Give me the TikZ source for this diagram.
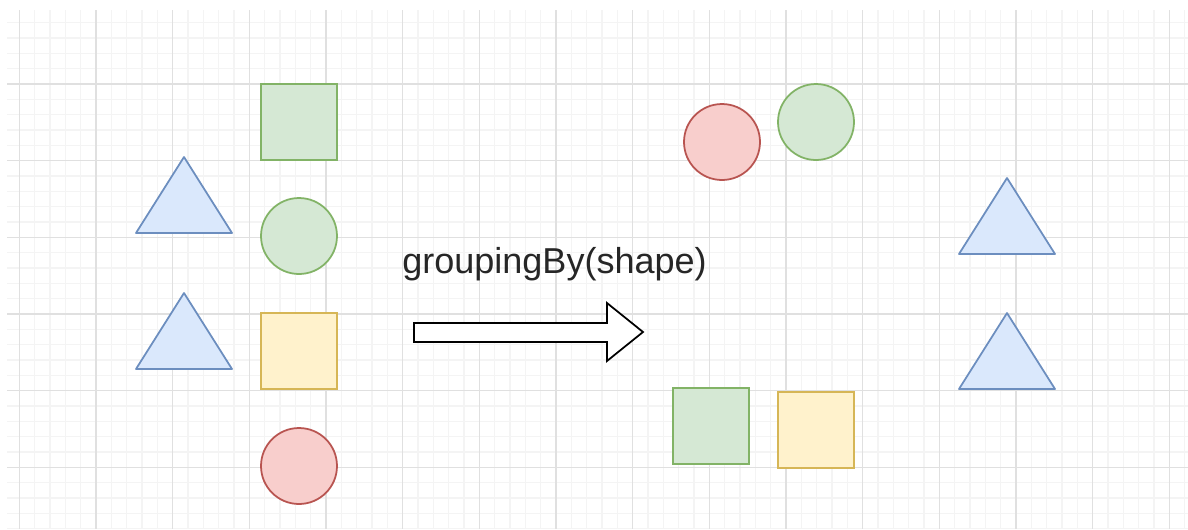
\documentclass[tikz,border=0pt]{standalone}
\usepackage{fontspec}
\setmainfont{Liberation Sans}

\definecolor{gridminor}{HTML}{F4F4F4}
\definecolor{gridmajor}{HTML}{E0E0E0}
\definecolor{greenfill}{HTML}{D5E8D4}
\definecolor{greenline}{HTML}{82B366}
\definecolor{yellowfill}{HTML}{FFF2CC}
\definecolor{yellowline}{HTML}{D6B656}
\definecolor{redfill}{HTML}{F8CECC}
\definecolor{redline}{HTML}{B85450}
\definecolor{bluefill}{HTML}{DAE8FC}
\definecolor{blueline}{HTML}{6C8EBF}

\begin{document}
\begin{tikzpicture}[x=0.02cm, y=-0.02cm,
    shp/.style={draw, line width=1pt, inner sep=0pt, minimum size=1.52cm},
    greensq/.style={shp, rectangle, fill=greenfill, draw=greenline},
    yellowsq/.style={shp, rectangle, fill=yellowfill, draw=yellowline},
    greencirc/.style={shp, circle, fill=greenfill, draw=greenline},
    redcirc/.style={shp, circle, fill=redfill, draw=redline},
    tri/.style={line width=1pt, fill=bluefill, draw=blueline, line join=round}]
    % Page and background grid
    \useasboundingbox (0,0) rectangle (1188,529);
    \fill[white] (0,0) rectangle (1188,529);
    \begin{scope}
        \clip (7,10) rectangle (1188,529);
        \foreach \i in {0,...,77}
            \draw[gridminor, line width=0.6pt] (4+15.333*\i,0) -- (4+15.333*\i,529);
        \foreach \i in {0,...,34}
            \draw[gridminor, line width=0.6pt] (0,7.33+15.333*\i) -- (1188,7.33+15.333*\i);
        \foreach \i in {0,...,15}
            \draw[gridmajor, line width=0.9pt] (19.33+76.667*\i,0) -- (19.33+76.667*\i,529);
        \foreach \i in {0,...,6}
            \draw[gridmajor, line width=0.9pt] (0,7.33+76.667*\i) -- (1188,7.33+76.667*\i);
    \end{scope}

    % Triangle with its apex at (#1,#2)
    \newcommand{\tri}[2]{\draw[tri] (#1,#2) -- ++(48,76) -- ++(-96,0) -- cycle;}

    % Mixed collection
    \tri{184}{157}
    \tri{184}{293}
    \node[greensq] (sqa) at (299,122) {};
    \node[greencirc] (cia) at (299,236) {};
    \node[yellowsq] (sqb) at (299,351) {};
    \node[redcirc] (cib) at (299,466) {};

    % Operation label and arrow
    \node[anchor=base, text=black!85, font=\fontsize{20.5}{24}\selectfont] (op) at (554.5,273) {groupingBy(shape)};
    \draw[line width=1pt, fill=white, line join=miter]
        (414,323) -- (607,323) -- (607,303) -- (643,332) -- (607,361)
        -- (607,342) -- (414,342) -- cycle;

    % Grouped result
    \node[redcirc] (cic) at (722,142) {};
    \node[greencirc] (cid) at (816,122) {};
    \node[greensq] (sqc) at (711,426) {};
    \node[yellowsq] (sqd) at (815.7,430) {};
    \tri{1007}{178}
    \tri{1007}{313}
\end{tikzpicture}
\end{document}
